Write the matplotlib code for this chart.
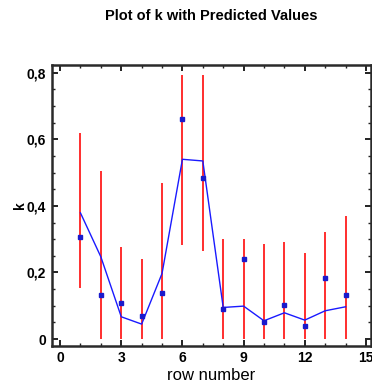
import numpy as np
import matplotlib
matplotlib.use("Agg")
import matplotlib.pyplot as plt
from matplotlib.ticker import MultipleLocator, FuncFormatter

plt.rcParams['font.family'] = ['Liberation Sans', 'DejaVu Sans']

# observed k, predicted k and interval limits for each row
rows = np.arange(1, 15)
k_obs = [0.307, 0.133, 0.107, 0.070, 0.138, 0.661, 0.483,
         0.091, 0.240, 0.050, 0.102, 0.039, 0.182, 0.133]
k_pred = [0.379, 0.247, 0.067, 0.045, 0.197, 0.540, 0.535,
          0.095, 0.099, 0.055, 0.079, 0.057, 0.085, 0.097]
lower = [0.154, 0.0, 0.0, 0.0, 0.0, 0.284, 0.265,
         0.0, 0.0, 0.0, 0.0, 0.0, 0.0, 0.0]
upper = [0.618, 0.505, 0.277, 0.242, 0.470, 0.793, 0.793,
         0.300, 0.300, 0.287, 0.292, 0.260, 0.322, 0.369]

fig = plt.figure(figsize=(3.72, 3.92), dpi=100)
ax = fig.add_axes([0.139, 0.118, 0.859, 0.716])

ax.vlines(rows, lower, upper, color='#ff2e2e', linewidth=1.4, zorder=2)
ax.plot(rows, k_pred, color='#1a1aff', linewidth=1.0, zorder=3)
ax.plot(rows, k_obs, 's', color='#1a1acc', markersize=3.2, zorder=4)

ax.set_xlim(-0.41, 15.26)
ax.set_ylim(-0.02, 0.823)

ax.xaxis.set_major_locator(MultipleLocator(3))
ax.xaxis.set_minor_locator(MultipleLocator(1))
ax.yaxis.set_major_locator(MultipleLocator(0.2))
ax.yaxis.set_minor_locator(MultipleLocator(0.05))
ax.yaxis.set_major_formatter(FuncFormatter(lambda v, p: ('%g' % round(v, 2)).replace('.', ',')))

ax.tick_params(which='both', direction='in', top=True, right=True, color='#222222')
ax.tick_params(which='major', length=4.5, width=1.4)
ax.tick_params(which='minor', length=2.5, width=1.0)
ax.tick_params(axis='both', which='major', labelsize=10, pad=4)
for lab in ax.get_xticklabels() + ax.get_yticklabels():
    lab.set_fontweight('bold')

for sp in ax.spines.values():
    sp.set_linewidth(1.8)
    sp.set_color('#2a2a2a')

ax.set_xlabel('row number', fontsize=12, labelpad=2)
fig.text(20 / 372, 1 - 205 / 392, 'k', rotation=90, ha='center', va='center',
         fontsize=10, fontweight='bold')
fig.text(211 / 372, 1 - 16 / 392, 'Plot of k with Predicted Values',
         ha='center', va='center', fontsize=10.5, fontweight='bold')

fig.savefig('out.png', dpi=100)
